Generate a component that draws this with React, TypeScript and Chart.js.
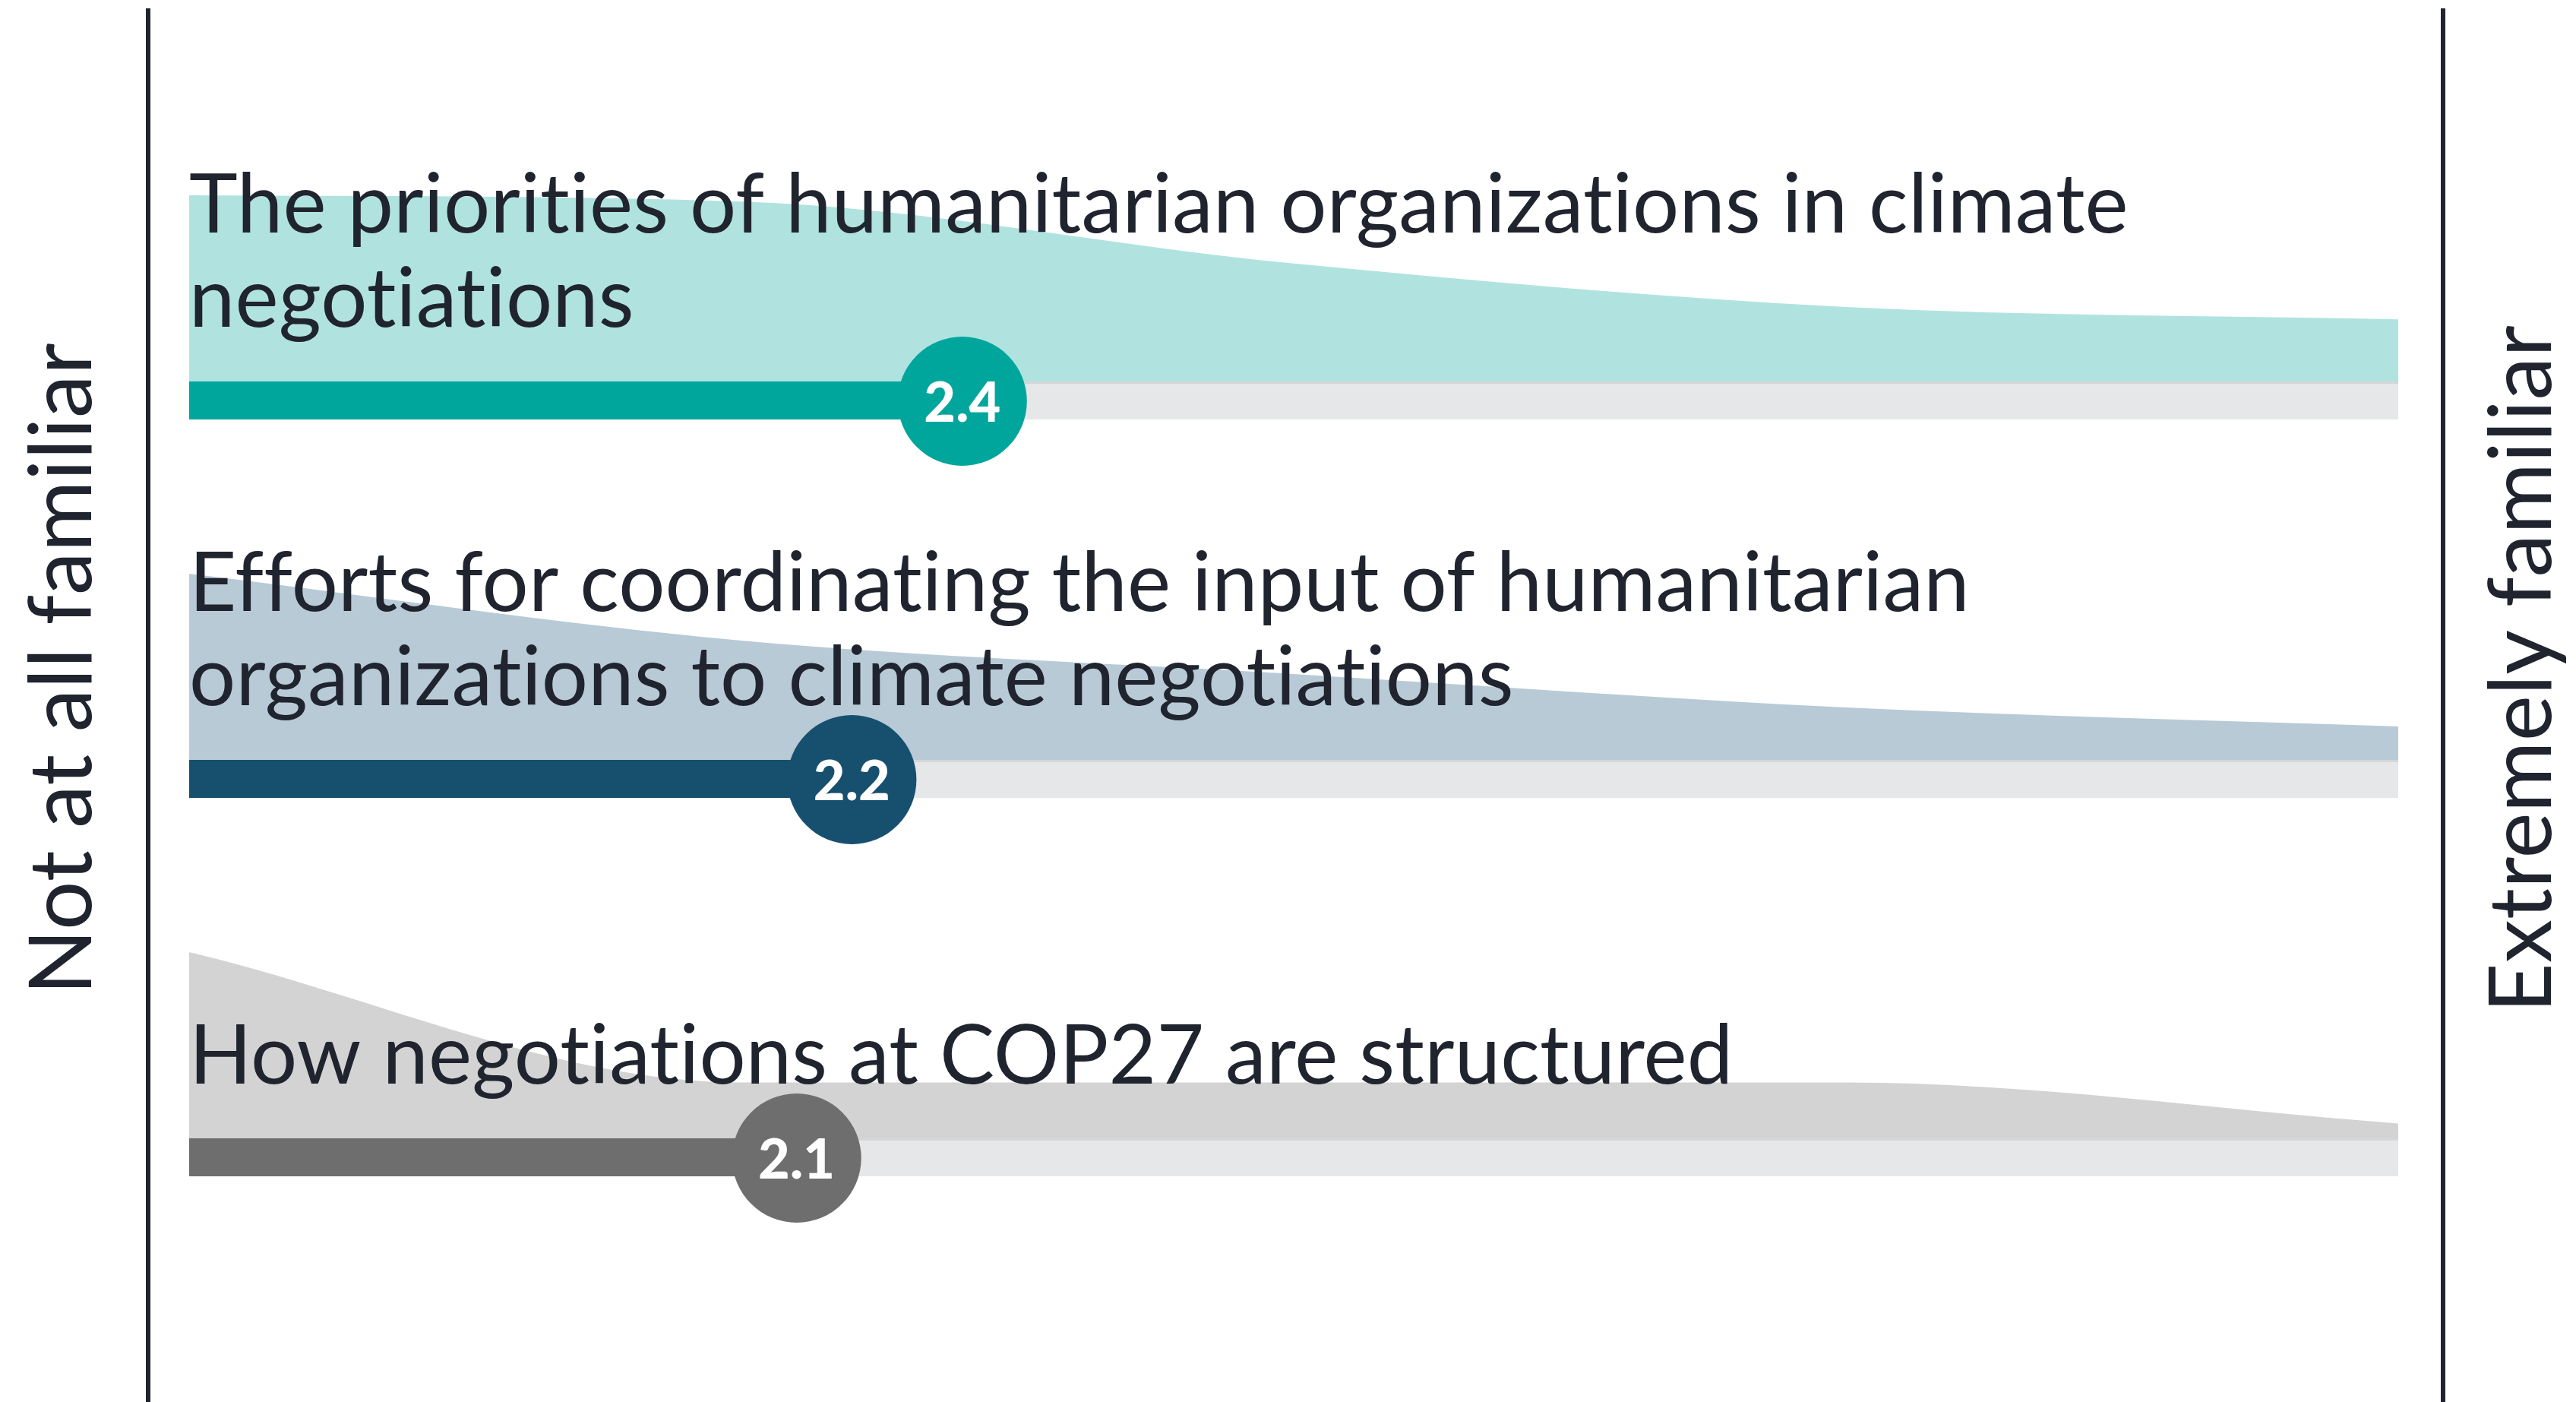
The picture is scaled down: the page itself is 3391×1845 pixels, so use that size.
import React, { useEffect, useRef } from "react";
import { Chart, registerables } from "chart.js";

Chart.register(...registerables);

// ---------- data ----------
const LEVELS = [1, 2, 3, 4, 5];
const AXIS_LABELS = ["Not at all familiar", "Extremely familiar"];

const TOPIC_PRIORITIES = ["The priorities of humanitarian organizations in climate", "negotiations"];
const TOPIC_EFFORTS = ["Efforts for coordinating the input of humanitarian", "organizations to climate negotiations"];
const TOPIC_STRUCTURE = ["How negotiations at COP27 are structured"];

const MEANS = [2.4, 2.2, 2.1];

// share of respondents (%) per familiarity level 1..5
const DIST_PRIORITIES = [30, 29, 19, 12, 10];
const DIST_EFFORTS = [39, 25, 18, 11, 7];
const DIST_STRUCTURE = [50, 15, 15, 15, 4];

// ---------- styling / layout ----------
const W = 3391;
const H = 1845;
const ROW_PX = 498;
const BASE0_PX = 502;
const PAD_LEFT = 249;
const PAD_RIGHT = W - 3157;
const AREA_H = 245 / ROW_PX;
const BAR_W = 50;
const BAR_C = 25 / ROW_PX;
const CIRCLE_C = 26 / ROW_PX;
const CIRCLE_R = 85;
const TEXT_COLOR = "#20242f";
const TRACK = "#e6e7e8";
const FONT = 'Lato, "Noto Sans", sans-serif';

const ROWS = [
  { lines: TOPIC_PRIORITIES, mean: MEANS[0], dist: DIST_PRIORITIES, main: "#00a69c", area: "#b0e3df" },
  { lines: TOPIC_EFFORTS, mean: MEANS[1], dist: DIST_EFFORTS, main: "#17506f", area: "#b9cad7" },
  { lines: TOPIC_STRUCTURE, mean: MEANS[2], dist: DIST_STRUCTURE, main: "#6e6e6e", area: "#d3d3d3" },
];

const decorPlugin = {
  id: "decor",
  afterDatasetsDraw(chart: any) {
    const { ctx, chartArea, scales } = chart;
    const xs = scales.x;
    const ys = scales.y;
    ctx.save();
    // frame lines
    ctx.strokeStyle = TEXT_COLOR;
    ctx.lineWidth = 6;
    [chartArea.left - 54, chartArea.right + 59].forEach((lx: number) => {
      ctx.beginPath();
      ctx.moveTo(lx, 11);
      ctx.lineTo(lx, H);
      ctx.stroke();
    });
    // titles
    ctx.fillStyle = TEXT_COLOR;
    ctx.font = `108px ${FONT}`;
    try {
      (ctx as any).letterSpacing = "0.2px";
    } catch (e) {}
    ctx.textAlign = "left";
    ctx.textBaseline = "alphabetic";
    ROWS.forEach((row, i) => {
      const base = ys.getPixelForValue(i);
      const n = row.lines.length;
      row.lines.forEach((line, j) => {
        ctx.fillText(line, xs.getPixelForValue(LEVELS[0]), base - 72 - (n - 1 - j) * 124);
      });
    });
    // value labels
    ctx.fillStyle = "#ffffff";
    ctx.font = `900 72px ${FONT}`;
    ctx.textAlign = "center";
    ctx.textBaseline = "middle";
    ROWS.forEach((row, i) => {
      ctx.fillText(row.mean.toFixed(1), xs.getPixelForValue(row.mean), ys.getPixelForValue(i + CIRCLE_C) + 4);
    });
    // side labels
    ctx.fillStyle = TEXT_COLOR;
    ctx.font = `114px ${FONT}`;
    ctx.textAlign = "center";
    ctx.textBaseline = "alphabetic";
    const midY = ys.getPixelForValue(0.76);
    const sides = [chartArea.left - 129, chartArea.right + 201];
    AXIS_LABELS.forEach((t, k) => {
      ctx.save();
      ctx.translate(sides[k], midY);
      ctx.rotate(-Math.PI / 2);
      ctx.fillText(t, 0, 0);
      ctx.restore();
    });
    ctx.restore();
  },
};

export default function App() {
  const ref = useRef<HTMLCanvasElement>(null);
  useEffect(() => {
    if (!ref.current) return;
    const datasets: any[] = [];
    ROWS.forEach((row, i) => {
      const maxShare = Math.max(...row.dist);
      datasets.push({
        type: "line",
        label: row.lines.join(" ") + " (distribution)",
        data: LEVELS.map((lv, k) => ({ x: lv, y: i - (row.dist[k] / maxShare) * AREA_H })),
        fill: { value: i },
        backgroundColor: row.area,
        borderWidth: 0,
        pointRadius: 0,
        cubicInterpolationMode: "monotone",
        order: 5,
        clip: false,
      });
      datasets.push({
        type: "line",
        label: "track",
        data: [
          { x: LEVELS[0], y: i + BAR_C },
          { x: LEVELS[LEVELS.length - 1], y: i + BAR_C },
        ],
        borderColor: TRACK,
        borderWidth: BAR_W,
        borderCapStyle: "butt",
        pointRadius: 0,
        fill: false,
        order: 4,
        clip: false,
      });
      datasets.push({
        type: "line",
        label: "edge",
        data: [
          { x: LEVELS[0], y: i + 1.5 / ROW_PX },
          { x: LEVELS[LEVELS.length - 1], y: i + 1.5 / ROW_PX },
        ],
        borderColor: "rgba(60,70,80,0.10)",
        borderWidth: 3,
        borderCapStyle: "butt",
        pointRadius: 0,
        fill: false,
        order: 3,
        clip: false,
      });
      datasets.push({
        type: "line",
        label: "mean bar",
        data: [
          { x: LEVELS[0], y: i + BAR_C },
          { x: row.mean, y: i + BAR_C },
        ],
        borderColor: row.main,
        borderWidth: BAR_W,
        borderCapStyle: "butt",
        pointRadius: 0,
        fill: false,
        order: 2,
        clip: false,
      });
      datasets.push({
        type: "line",
        label: "mean",
        data: [{ x: row.mean, y: i + CIRCLE_C }],
        showLine: false,
        pointRadius: CIRCLE_R,
        pointHoverRadius: CIRCLE_R,
        pointBackgroundColor: row.main,
        pointBorderWidth: 0,
        borderWidth: 0,
        order: 1,
        clip: false,
      });
    });

    const chart = new Chart(ref.current, {
      type: "line",
      data: { datasets },
      options: {
        animation: false,
        responsive: false,
        maintainAspectRatio: false,
        devicePixelRatio: 1,
        events: [],
        layout: { autoPadding: false, padding: { left: PAD_LEFT, right: PAD_RIGHT, top: 0, bottom: 0 } },
        plugins: { legend: { display: false }, tooltip: { enabled: false } },
        scales: {
          x: { type: "linear", min: LEVELS[0], max: LEVELS[LEVELS.length - 1], display: false },
          y: {
            type: "linear",
            reverse: true,
            min: -BASE0_PX / ROW_PX,
            max: (H - BASE0_PX) / ROW_PX,
            display: false,
          },
        },
      },
      plugins: [decorPlugin],
    } as any);
    return () => chart.destroy();
  }, []);

  return (
    <div style={{ position: "fixed", left: 0, top: 0, width: W, height: H, background: "#ffffff" }}>
      <canvas ref={ref} width={W} height={H} style={{ width: W, height: H, display: "block" }} />
    </div>
  );
}
